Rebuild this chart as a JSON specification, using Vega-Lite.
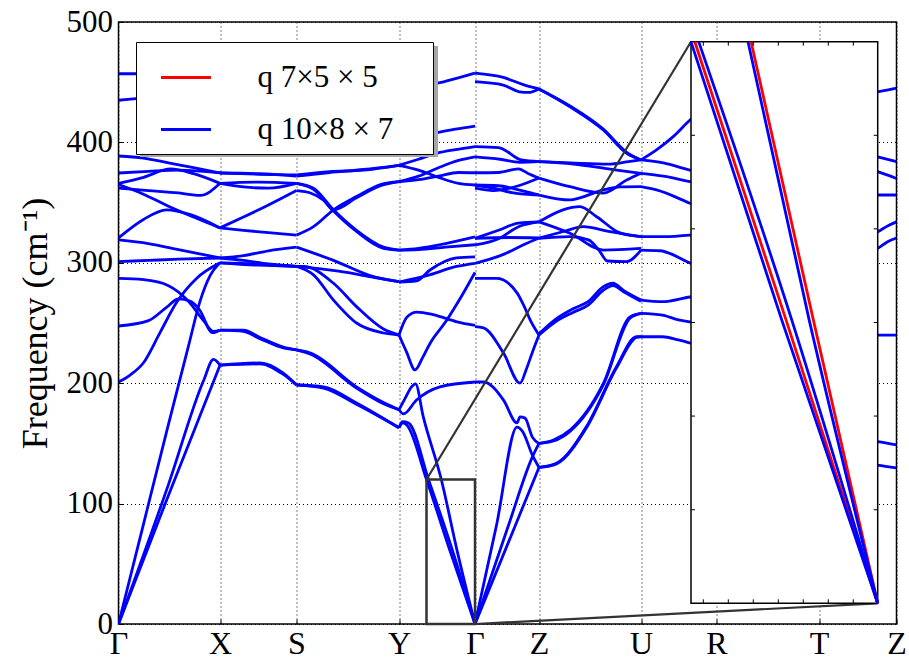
{
"$schema": "https://vega.github.io/schema/vega-lite/v6.json",
"width": 778, "height": 602,
"autosize": {"type": "none"},
"padding": {"left": 118.5, "top": 22, "right": 12.5, "bottom": 35},
"config": {"view": {"stroke": "black", "strokeWidth": 1.5}, "font": "Liberation Serif"},
"datasets": {
"blue": [
{"b":"a1","x":0,"y":457},{"b":"a1","x":30,"y":457},{"b":"a1","x":60,"y":456},{"b":"a1","x":101.5,"y":455},
{"b":"a2","x":0,"y":435},{"b":"a2","x":30,"y":438},{"b":"a2","x":60,"y":445},{"b":"a2","x":101.5,"y":452},
{"b":"a3","x":0,"y":388.7},{"b":"a3","x":25,"y":387},{"b":"a3","x":50,"y":383},{"b":"a3","x":75,"y":379},{"b":"a3","x":101.5,"y":374.6},
{"b":"a4","x":0,"y":374.6},{"b":"a4","x":30,"y":376},{"b":"a4","x":60,"y":377},{"b":"a4","x":101.5,"y":374.6},
{"b":"a5","x":0,"y":366},{"b":"a5","x":25,"y":371},{"b":"a5","x":52,"y":378},{"b":"a5","x":75,"y":374},{"b":"a5","x":101.5,"y":366},
{"b":"a6","x":0,"y":362},{"b":"a6","x":30,"y":360},{"b":"a6","x":60,"y":358},{"b":"a6","x":82,"y":356},{"b":"a6","x":101.5,"y":366},
{"b":"a7","x":0,"y":365},{"b":"a7","x":25,"y":357},{"b":"a7","x":50,"y":347},{"b":"a7","x":75,"y":338},{"b":"a7","x":101.5,"y":329},
{"b":"a8","x":0,"y":320.6},{"b":"a8","x":25,"y":336},{"b":"a8","x":48,"y":344},{"b":"a8","x":72,"y":340},{"b":"a8","x":101.5,"y":329},
{"b":"a9","x":0,"y":319},{"b":"a9","x":30,"y":316},{"b":"a9","x":60,"y":311},{"b":"a9","x":101.5,"y":304},
{"b":"a10","x":0,"y":301},{"b":"a10","x":30,"y":302},{"b":"a10","x":60,"y":303},{"b":"a10","x":101.5,"y":304},
{"b":"a11","x":0,"y":201},{"b":"a11","x":12,"y":207},{"b":"a11","x":25,"y":217},{"b":"a11","x":41.5,"y":242},{"b":"a11","x":58,"y":267},{"b":"a11","x":78,"y":287},{"b":"a11","x":101.5,"y":300},
{"b":"a12","x":0,"y":0},{"b":"a12","x":25,"y":83},{"b":"a12","x":50,"y":166},{"b":"a12","x":70,"y":231},{"b":"a12","x":81.5,"y":268},{"b":"a12","x":92,"y":290},{"b":"a12","x":101.5,"y":300},
{"b":"a13","x":0,"y":247.5},{"b":"a13","x":30,"y":252},{"b":"a13","x":48,"y":263},{"b":"a13","x":60,"y":270},{"b":"a13","x":72,"y":268},{"b":"a13","x":81,"y":261},{"b":"a13","x":94,"y":242},{"b":"a13","x":101.5,"y":244},
{"b":"a14","x":0,"y":287},{"b":"a14","x":25,"y":286},{"b":"a14","x":50,"y":281},{"b":"a14","x":70,"y":268},{"b":"a14","x":85,"y":252},{"b":"a14","x":95,"y":243},{"b":"a14","x":101.5,"y":244},
{"b":"a15","x":0,"y":0},{"b":"a15","x":50,"y":107},{"b":"a15","x":101.5,"y":215},
{"b":"a16","x":0,"y":0},{"b":"a16","x":50,"y":116},{"b":"a16","x":85,"y":202},{"b":"a16","x":95,"y":219.8},{"b":"a16","x":101.5,"y":215},
{"b":"b1","x":101.5,"y":455},{"b":"b1","x":178,"y":455},
{"b":"b2","x":101.5,"y":452},{"b":"b2","x":140,"y":454},{"b":"b2","x":178,"y":455},
{"b":"b3","x":101.5,"y":374.6},{"b":"b3","x":140,"y":373.5},{"b":"b3","x":178,"y":373},
{"b":"b4","x":101.5,"y":374.6},{"b":"b4","x":140,"y":374},{"b":"b4","x":178,"y":372},
{"b":"b5","x":101.5,"y":366},{"b":"b5","x":140,"y":367},{"b":"b5","x":178,"y":366},
{"b":"b6","x":101.5,"y":366},{"b":"b6","x":125,"y":363},{"b":"b6","x":150,"y":362},{"b":"b6","x":178,"y":366},
{"b":"b7","x":101.5,"y":329},{"b":"b7","x":125,"y":327},{"b":"b7","x":150,"y":325},{"b":"b7","x":178,"y":323},
{"b":"b8","x":101.5,"y":329},{"b":"b8","x":125,"y":338},{"b":"b8","x":150,"y":348},{"b":"b8","x":178,"y":360},
{"b":"b9","x":101.5,"y":304},{"b":"b9","x":125,"y":306},{"b":"b9","x":150,"y":310},{"b":"b9","x":178,"y":313},
{"b":"b10","x":101.5,"y":304},{"b":"b10","x":125,"y":302},{"b":"b10","x":150,"y":299},{"b":"b10","x":178,"y":297},
{"b":"b11","x":101.5,"y":300},{"b":"b11","x":140,"y":299},{"b":"b11","x":178,"y":297},
{"b":"b12","x":101.5,"y":300},{"b":"b12","x":140,"y":298},{"b":"b12","x":178,"y":297},
{"b":"b13","x":101.5,"y":244},{"b":"b13","x":124.8,"y":244},{"b":"b13","x":141.5,"y":238},{"b":"b13","x":164.8,"y":230},{"b":"b13","x":178,"y":227.6},
{"b":"b14","x":101.5,"y":244},{"b":"b14","x":124.8,"y":243},{"b":"b14","x":141.5,"y":237},{"b":"b14","x":164.8,"y":229.3},{"b":"b14","x":178,"y":227.6},
{"b":"b15","x":101.5,"y":215},{"b":"b15","x":141.5,"y":216.8},{"b":"b15","x":164.5,"y":208.5},{"b":"b15","x":178,"y":198.5},
{"b":"b16","x":101.5,"y":215},{"b":"b16","x":141.5,"y":216},{"b":"b16","x":164.5,"y":207.5},{"b":"b16","x":178,"y":198.5},
{"b":"c1","x":178,"y":455},{"b":"c1","x":230,"y":450},{"b":"c1","x":280.5,"y":445},
{"b":"c2","x":178,"y":455},{"b":"c2","x":230,"y":430},{"b":"c2","x":280.5,"y":400},
{"b":"c3","x":178,"y":373},{"b":"c3","x":211,"y":375.7},{"b":"c3","x":245,"y":377},{"b":"c3","x":280.5,"y":381},
{"b":"c4","x":178,"y":372},{"b":"c4","x":211,"y":375},{"b":"c4","x":245,"y":377.5},{"b":"c4","x":280.5,"y":381},
{"b":"c5","x":178,"y":366},{"b":"c5","x":195,"y":362},{"b":"c5","x":215,"y":344},{"b":"c5","x":238,"y":327},{"b":"c5","x":265,"y":313},{"b":"c5","x":280.5,"y":310.6},
{"b":"c6","x":178,"y":366},{"b":"c6","x":195,"y":361},{"b":"c6","x":215,"y":343},{"b":"c6","x":238,"y":326},{"b":"c6","x":265,"y":312},{"b":"c6","x":280.5,"y":310.6},
{"b":"c7","x":178,"y":323},{"b":"c7","x":195,"y":330},{"b":"c7","x":215,"y":344},{"b":"c7","x":238,"y":355},{"b":"c7","x":262,"y":365},{"b":"c7","x":280.5,"y":367.4},
{"b":"c8","x":178,"y":360},{"b":"c8","x":192,"y":358},{"b":"c8","x":205,"y":352},{"b":"c8","x":215,"y":344},{"b":"c8","x":238,"y":354},{"b":"c8","x":262,"y":364},{"b":"c8","x":280.5,"y":367.4},
{"b":"c9","x":178,"y":313},{"b":"c9","x":215,"y":302},{"b":"c9","x":255,"y":288.5},{"b":"c9","x":280.5,"y":284.3},
{"b":"c10","x":178,"y":297},{"b":"c10","x":220,"y":293},{"b":"c10","x":255,"y":288},{"b":"c10","x":280.5,"y":284.3},
{"b":"c11","x":178,"y":297},{"b":"c11","x":185,"y":297},{"b":"c11","x":215,"y":283},{"b":"c11","x":238,"y":263.6},{"b":"c11","x":265,"y":245},{"b":"c11","x":280.5,"y":240},
{"b":"c12","x":178,"y":297},{"b":"c12","x":195,"y":290},{"b":"c12","x":215,"y":269},{"b":"c12","x":238,"y":250},{"b":"c12","x":265,"y":241.7},{"b":"c12","x":280.5,"y":240},
{"b":"c13","x":178,"y":227.6},{"b":"c13","x":192,"y":225},{"b":"c13","x":238,"y":197},{"b":"c13","x":265,"y":184},{"b":"c13","x":280.5,"y":178},
{"b":"c14","x":178,"y":227.6},{"b":"c14","x":192,"y":224},{"b":"c14","x":238,"y":196},{"b":"c14","x":265,"y":183},{"b":"c14","x":280.5,"y":178},
{"b":"c15","x":178,"y":198.5},{"b":"c15","x":205,"y":197},{"b":"c15","x":238,"y":183.6},{"b":"c15","x":280.5,"y":163},
{"b":"c16","x":178,"y":198.5},{"b":"c16","x":205,"y":196},{"b":"c16","x":238,"y":182.5},{"b":"c16","x":280.5,"y":163},
{"b":"d1","x":280.5,"y":445},{"b":"d1","x":300,"y":446},{"b":"d1","x":318.5,"y":449},{"b":"d1","x":337,"y":453},{"b":"d1","x":356.5,"y":457.6},
{"b":"d2","x":280.5,"y":400},{"b":"d2","x":300,"y":403},{"b":"d2","x":318.5,"y":408},{"b":"d2","x":337,"y":411},{"b":"d2","x":356.5,"y":413.6},
{"b":"d3","x":280.5,"y":381},{"b":"d3","x":300,"y":386},{"b":"d3","x":318.5,"y":391},{"b":"d3","x":337,"y":394},{"b":"d3","x":356.5,"y":396.5},
{"b":"d4","x":280.5,"y":381},{"b":"d4","x":300,"y":377},{"b":"d4","x":320,"y":371},{"b":"d4","x":340,"y":366},{"b":"d4","x":356.5,"y":364.6},
{"b":"d7","x":280.5,"y":367.4},{"b":"d7","x":300,"y":372},{"b":"d7","x":320,"y":379},{"b":"d7","x":340,"y":385},{"b":"d7","x":356.5,"y":388},
{"b":"d8","x":280.5,"y":367.4},{"b":"d8","x":300,"y":369},{"b":"d8","x":320,"y":372},{"b":"d8","x":340,"y":375},{"b":"d8","x":356.5,"y":374.8},
{"b":"d5","x":280.5,"y":310.6},{"b":"d5","x":300,"y":312},{"b":"d5","x":327,"y":316},{"b":"d5","x":356.5,"y":321.5},
{"b":"d6","x":280.5,"y":310.6},{"b":"d6","x":300,"y":311},{"b":"d6","x":327,"y":313},{"b":"d6","x":356.5,"y":315},
{"b":"d9","x":280.5,"y":284},{"b":"d9","x":298,"y":285},{"b":"d9","x":311.5,"y":294},{"b":"d9","x":338,"y":304},{"b":"d9","x":356.5,"y":305},
{"b":"d10","x":280.5,"y":284},{"b":"d10","x":311,"y":290},{"b":"d10","x":338,"y":297},{"b":"d10","x":356.5,"y":299.6},
{"b":"d11","x":280.5,"y":240},{"b":"d11","x":288,"y":226},{"b":"d11","x":296.5,"y":211},{"b":"d11","x":304,"y":221},{"b":"d11","x":311.5,"y":233},{"b":"d11","x":328,"y":252},{"b":"d11","x":340,"y":268},{"b":"d11","x":356.5,"y":292},
{"b":"d12","x":280.5,"y":240},{"b":"d12","x":288.5,"y":255},{"b":"d12","x":298.5,"y":259},{"b":"d12","x":314.5,"y":257},{"b":"d12","x":338.5,"y":251},{"b":"d12","x":356.5,"y":248},
{"b":"d13","x":280.5,"y":178},{"b":"d13","x":285,"y":174.5},{"b":"d13","x":298,"y":186},{"b":"d13","x":321.5,"y":197},{"b":"d13","x":356.5,"y":201},
{"b":"d14","x":280.5,"y":178},{"b":"d14","x":287,"y":188},{"b":"d14","x":293,"y":197},{"b":"d14","x":297,"y":199.5},{"b":"d14","x":304.8,"y":172},{"b":"d14","x":322.8,"y":120},{"b":"d14","x":338.7,"y":60.5},{"b":"d14","x":356.5,"y":0},
{"b":"d15","x":280.5,"y":163},{"b":"d15","x":284.5,"y":167},{"b":"d15","x":288.5,"y":165},{"b":"d15","x":308,"y":120},{"b":"d15","x":331.6,"y":60.5},{"b":"d15","x":356.5,"y":0},
{"b":"d16","x":280.5,"y":163},{"b":"d16","x":284,"y":168},{"b":"d16","x":290,"y":167},{"b":"d16","x":310,"y":120},{"b":"d16","x":334.2,"y":60.5},{"b":"d16","x":356.5,"y":0},
{"b":"e1","x":356.5,"y":457.6},{"b":"e1","x":384.8,"y":454},{"b":"e1","x":404.8,"y":448},{"b":"e1","x":420.5,"y":444.4},
{"b":"e2","x":356.5,"y":450.4},{"b":"e2","x":384.8,"y":447.6},{"b":"e2","x":401,"y":442},{"b":"e2","x":410,"y":441.5},{"b":"e2","x":420.5,"y":444.4},
{"b":"e3","x":356.5,"y":396.5},{"b":"e3","x":380,"y":395.7},{"b":"e3","x":403,"y":385.4},{"b":"e3","x":420.5,"y":384},
{"b":"e4","x":356.5,"y":388},{"b":"e4","x":381.5,"y":386},{"b":"e4","x":401.5,"y":383.5},{"b":"e4","x":420.5,"y":384},
{"b":"e5","x":356.5,"y":374.8},{"b":"e5","x":380,"y":375},{"b":"e5","x":400,"y":378},{"b":"e5","x":410,"y":374},{"b":"e5","x":420.5,"y":370.4},
{"b":"e6","x":356.5,"y":364.6},{"b":"e6","x":380,"y":364},{"b":"e6","x":398,"y":361},{"b":"e6","x":420.5,"y":356.3},
{"b":"e7","x":356.5,"y":362},{"b":"e7","x":375,"y":360},{"b":"e7","x":400,"y":364},{"b":"e7","x":420.5,"y":370.4},
{"b":"e8","x":356.5,"y":364.6},{"b":"e8","x":375,"y":362},{"b":"e8","x":395,"y":358},{"b":"e8","x":420.5,"y":356.3},
{"b":"e9","x":356.5,"y":320.3},{"b":"e9","x":380,"y":327},{"b":"e9","x":400,"y":333},{"b":"e9","x":420.5,"y":334},
{"b":"e10","x":356.5,"y":314.8},{"b":"e10","x":380,"y":320},{"b":"e10","x":400,"y":330},{"b":"e10","x":420.5,"y":334},
{"b":"e11","x":356.5,"y":320.3},{"b":"e11","x":390,"y":321},{"b":"e11","x":420.5,"y":320.6},
{"b":"e12","x":356.5,"y":299.6},{"b":"e12","x":385,"y":307},{"b":"e12","x":405,"y":315},{"b":"e12","x":420.5,"y":320.6},
{"b":"e13","x":356.5,"y":287},{"b":"e13","x":378.5,"y":287},{"b":"e13","x":398.5,"y":275},{"b":"e13","x":405,"y":265},{"b":"e13","x":412,"y":252},{"b":"e13","x":420.5,"y":240},
{"b":"e14","x":356.5,"y":247},{"b":"e14","x":365,"y":246},{"b":"e14","x":385,"y":225},{"b":"e14","x":401.5,"y":200},{"b":"e14","x":408,"y":212},{"b":"e14","x":414,"y":226},{"b":"e14","x":420.5,"y":240},
{"b":"e15","x":356.5,"y":201},{"b":"e15","x":365,"y":201},{"b":"e15","x":385,"y":186},{"b":"e15","x":398.5,"y":167},{"b":"e15","x":401.5,"y":172},{"b":"e15","x":406.5,"y":171},{"b":"e15","x":414,"y":155},{"b":"e15","x":420.5,"y":150},
{"b":"e16","x":356.5,"y":0},{"b":"e16","x":378,"y":82},{"b":"e16","x":398.5,"y":163.6},{"b":"e16","x":404,"y":160},{"b":"e16","x":414,"y":140},{"b":"e16","x":420.5,"y":130},
{"b":"e17","x":356.5,"y":0},{"b":"e17","x":390,"y":82},{"b":"e17","x":414,"y":139},{"b":"e17","x":420.5,"y":150},
{"b":"e18","x":356.5,"y":0},{"b":"e18","x":390,"y":68},{"b":"e18","x":420.5,"y":130},
{"b":"f1","x":420.5,"y":444.4},{"b":"f1","x":451.5,"y":429.6},{"b":"f1","x":484.8,"y":410.3},{"b":"f1","x":508.2,"y":391},{"b":"f1","x":522.5,"y":385.4},
{"b":"f2","x":420.5,"y":444.4},{"b":"f2","x":451.5,"y":430.3},{"b":"f2","x":484.8,"y":411},{"b":"f2","x":508.2,"y":391.7},{"b":"f2","x":522.5,"y":385.4},
{"b":"f3","x":420.5,"y":384},{"b":"f3","x":452,"y":383},{"b":"f3","x":490,"y":382},{"b":"f3","x":510,"y":384},{"b":"f3","x":522.5,"y":385.4},
{"b":"f4","x":420.5,"y":384},{"b":"f4","x":455,"y":382},{"b":"f4","x":490,"y":378},{"b":"f4","x":522.5,"y":374.3},
{"b":"f5","x":420.5,"y":370.4},{"b":"f5","x":451.5,"y":363.2},{"b":"f5","x":485,"y":357.9},{"b":"f5","x":508.2,"y":368.7},{"b":"f5","x":522.5,"y":374.3},
{"b":"f6","x":420.5,"y":356.3},{"b":"f6","x":451.5,"y":352.2},{"b":"f6","x":461.5,"y":354},{"b":"f6","x":485,"y":360.5},{"b":"f6","x":501.5,"y":363},{"b":"f6","x":522.5,"y":363.2},
{"b":"f7","x":420.5,"y":334},{"b":"f7","x":444.5,"y":344},{"b":"f7","x":461.5,"y":346.6},{"b":"f7","x":478.5,"y":338},{"b":"f7","x":501.5,"y":324.8},{"b":"f7","x":522.5,"y":321.7},
{"b":"f8","x":420.5,"y":334},{"b":"f8","x":451.5,"y":324.5},{"b":"f8","x":485,"y":310.6},{"b":"f8","x":522.5,"y":312},
{"b":"f9","x":420.5,"y":320.3},{"b":"f9","x":451.5,"y":321.7},{"b":"f9","x":470,"y":319},{"b":"f9","x":480,"y":311},{"b":"f9","x":489,"y":301.5},{"b":"f9","x":508,"y":301},{"b":"f9","x":522.5,"y":310.6},
{"b":"f10","x":420.5,"y":320.6},{"b":"f10","x":445,"y":326},{"b":"f10","x":465,"y":330},{"b":"f10","x":490,"y":326},{"b":"f10","x":522.5,"y":321.7},
{"b":"f11","x":420.5,"y":241},{"b":"f11","x":437,"y":253},{"b":"f11","x":455,"y":262},{"b":"f11","x":470,"y":268},{"b":"f11","x":484.5,"y":280},{"b":"f11","x":494.5,"y":283},{"b":"f11","x":505,"y":277},{"b":"f11","x":522.5,"y":269},
{"b":"f12","x":420.5,"y":240},{"b":"f12","x":437,"y":251},{"b":"f12","x":455,"y":259},{"b":"f12","x":470,"y":265},{"b":"f12","x":484.5,"y":277},{"b":"f12","x":494.5,"y":281},{"b":"f12","x":505,"y":276},{"b":"f12","x":522.5,"y":268},
{"b":"f13","x":420.5,"y":150},{"b":"f13","x":435,"y":152.8},{"b":"f13","x":451.5,"y":161},{"b":"f13","x":485,"y":200},{"b":"f13","x":511.5,"y":255},{"b":"f13","x":522.5,"y":258},
{"b":"f14","x":420.5,"y":150},{"b":"f14","x":435,"y":152},{"b":"f14","x":451.5,"y":160},{"b":"f14","x":485,"y":199},{"b":"f14","x":511.5,"y":254},{"b":"f14","x":522.5,"y":258},
{"b":"f15","x":420.5,"y":130},{"b":"f15","x":438,"y":133.5},{"b":"f15","x":468,"y":164},{"b":"f15","x":498,"y":213.7},{"b":"f15","x":518,"y":238.6},{"b":"f15","x":522.5,"y":238.6},
{"b":"f16","x":420.5,"y":130},{"b":"f16","x":438,"y":133},{"b":"f16","x":468,"y":163},{"b":"f16","x":498,"y":212.7},{"b":"f16","x":518,"y":238},{"b":"f16","x":522.5,"y":238.6},
{"b":"g1","x":522.5,"y":385.4},{"b":"g1","x":538,"y":393.7},{"b":"g1","x":555,"y":405},{"b":"g1","x":571.5,"y":418.6},{"b":"g1","x":598,"y":435},
{"b":"g2","x":522.5,"y":385.4},{"b":"g2","x":544.8,"y":383},{"b":"g2","x":571.5,"y":377},{"b":"g2","x":598,"y":372},
{"b":"g3","x":522.5,"y":374.3},{"b":"g3","x":545,"y":372},{"b":"g3","x":571.5,"y":367.4},{"b":"g3","x":598,"y":363},
{"b":"g4","x":522.5,"y":363.2},{"b":"g4","x":538,"y":360.5},{"b":"g4","x":571.5,"y":349.4},{"b":"g4","x":598,"y":340},
{"b":"g5","x":522.5,"y":321.7},{"b":"g5","x":544,"y":321.7},{"b":"g5","x":571.5,"y":323},{"b":"g5","x":598,"y":324},
{"b":"g6","x":522.5,"y":310.6},{"b":"g6","x":541.5,"y":310},{"b":"g6","x":571.5,"y":299.8},{"b":"g6","x":598,"y":290},
{"b":"g7","x":522.5,"y":269},{"b":"g7","x":544,"y":267.7},{"b":"g7","x":571.5,"y":271.6},{"b":"g7","x":598,"y":274},
{"b":"g8","x":522.5,"y":258},{"b":"g8","x":544,"y":256.6},{"b":"g8","x":560,"y":252.5},{"b":"g8","x":571.5,"y":251},{"b":"g8","x":598,"y":246},
{"b":"g9","x":522.5,"y":238.6},{"b":"g9","x":544,"y":238.6},{"b":"g9","x":560,"y":235.9},{"b":"g9","x":571.5,"y":233.4},{"b":"g9","x":598,"y":227},
{"b":"h1","x":740,"y":441},{"b":"h1","x":759.2,"y":442},{"b":"h1","x":778,"y":445},
{"b":"h2","x":740,"y":392},{"b":"h2","x":759.2,"y":388},{"b":"h2","x":778,"y":384},
{"b":"h3","x":740,"y":380},{"b":"h3","x":759.2,"y":375.7},{"b":"h3","x":778,"y":370},
{"b":"h4","x":740,"y":356},{"b":"h4","x":759.2,"y":356.3},{"b":"h4","x":778,"y":356.3},
{"b":"h5","x":740,"y":318},{"b":"h5","x":759.2,"y":325.8},{"b":"h5","x":770,"y":331},{"b":"h5","x":778,"y":334},
{"b":"h6","x":740,"y":305},{"b":"h6","x":759.2,"y":312},{"b":"h6","x":770,"y":318},{"b":"h6","x":778,"y":320.6},
{"b":"h7","x":740,"y":240},{"b":"h7","x":759.2,"y":240},{"b":"h7","x":778,"y":240},
{"b":"h8","x":740,"y":153},{"b":"h8","x":759.2,"y":151.4},{"b":"h8","x":778,"y":148.7},
{"b":"h9","x":740,"y":134},{"b":"h9","x":759.2,"y":132},{"b":"h9","x":778,"y":129.6}
],
"red": [
{"b":"r1","x":101.5,"y":244},{"b":"r1","x":124.8,"y":243.5},{"b":"r1","x":141.5,"y":236.5},{"b":"r1","x":164.8,"y":228.5},{"b":"r1","x":178,"y":226},{"b":"r1","x":192,"y":222.5},{"b":"r1","x":238,"y":195},{"b":"r1","x":265,"y":182},{"b":"r1","x":280.5,"y":176.5},
{"b":"r2","x":178,"y":298.5},{"b":"r2","x":185,"y":298.5},{"b":"r2","x":215,"y":285},{"b":"r2","x":238,"y":265.5},{"b":"r2","x":265,"y":246.5},{"b":"r2","x":280.5,"y":241.5},
{"b":"r3","x":318.5,"y":409.5},{"b":"r3","x":337,"y":412.5},{"b":"r3","x":356.5,"y":415},
{"b":"r4","x":101.5,"y":214.5},{"b":"r4","x":141.5,"y":215.5},{"b":"r4","x":164.5,"y":206.8},{"b":"r4","x":178,"y":197},{"b":"r4","x":205,"y":195.5},{"b":"r4","x":238,"y":182},{"b":"r4","x":280.5,"y":161.8},
{"b":"r5","x":297.8,"y":199.5},{"b":"r5","x":305.6,"y":172},{"b":"r5","x":323.6,"y":120},{"b":"r5","x":339.8,"y":60.5},{"b":"r5","x":356.5,"y":0},
{"b":"r6","x":309,"y":120},{"b":"r6","x":332.7,"y":60.5},{"b":"r6","x":356.5,"y":0}
],
"iblue": [
{"b":"i1","x":572.5,"y":483.6},{"b":"i1","x":663.3,"y":252.4},{"b":"i1","x":759.2,"y":17.2},
{"b":"i2","x":580.2,"y":483.6},{"b":"i2","x":673.3,"y":252.4},{"b":"i2","x":759.2,"y":17.2},
{"b":"i3","x":629.5,"y":483.6},{"b":"i3","x":690.7,"y":252.4},{"b":"i3","x":759.2,"y":17.2}
],
"ired": [
{"b":"j1","x":576.3,"y":483.6},{"b":"j1","x":667.6,"y":252.4},{"b":"j1","x":759.2,"y":17.2},
{"b":"j3","x":632.6,"y":483.6},{"b":"j3","x":694.9,"y":252.4},{"b":"j3","x":759.2,"y":17.2}
],
"iticks": [
{"x":572.5,"x2":576.5,"y":94.9,"y2":94.9},{"x":572.5,"x2":576.5,"y":172.7,"y2":172.7},{"x":572.5,"x2":576.5,"y":250.4,"y2":250.4},{"x":572.5,"x2":576.5,"y":328.2,"y2":328.2},{"x":572.5,"x2":576.5,"y":405.9,"y2":405.9},
{"x":755.2,"x2":759.2,"y":94.9,"y2":94.9},{"x":755.2,"x2":759.2,"y":172.7,"y2":172.7},{"x":755.2,"x2":759.2,"y":250.4,"y2":250.4},{"x":755.2,"x2":759.2,"y":328.2,"y2":328.2},{"x":755.2,"x2":759.2,"y":405.9,"y2":405.9},
{"x":584.8,"x2":584.8,"y":483.6,"y2":480.3},{"x":609.8,"x2":609.8,"y":483.6,"y2":480.3},{"x":634.8,"x2":634.8,"y":483.6,"y2":480.3},{"x":659.8,"x2":659.8,"y":483.6,"y2":480.3},{"x":684.8,"x2":684.8,"y":483.6,"y2":480.3},{"x":709.8,"x2":709.8,"y":483.6,"y2":480.3},{"x":734.8,"x2":734.8,"y":483.6,"y2":480.3},
{"x":584.8,"x2":584.8,"y":17.2,"y2":20.5},{"x":609.8,"x2":609.8,"y":17.2,"y2":20.5},{"x":634.8,"x2":634.8,"y":17.2,"y2":20.5},{"x":659.8,"x2":659.8,"y":17.2,"y2":20.5},{"x":684.8,"x2":684.8,"y":17.2,"y2":20.5},{"x":709.8,"x2":709.8,"y":17.2,"y2":20.5},{"x":734.8,"x2":734.8,"y":17.2,"y2":20.5}
],
"conn": [{"x":308,"y":120,"x2":572.5,"y2":483.6},{"x":356.5,"y":0,"x2":759.2,"y2":17.2}],
"zoombox": [{"x":308,"x2":356.5,"y":0,"y2":120}],
"inset": [{"x":572.5,"x2":759.2,"y":17.2,"y2":483.6}],
"shadow": [{"x":21.5,"x2":319.5,"y":387.9,"y2":480.1}]
},
"layer": [
{"data": {"name": "red"},
 "mark": {"type": "line", "strokeWidth": 2.8, "interpolate": "monotone", "clip": true},
 "encoding": {
  "x": {"field": "x", "type": "quantitative", "scale": {"domain": [0, 778], "nice": false, "zero": false},
   "axis": {"values": [0, 101.5, 178, 280.5, 356.5, 420.5, 522.5, 598, 700.5, 778], "title": null, "grid": true, "gridColor": "black", "gridDash": [1, 3], "gridOpacity": 1, "gridWidth": 1, "domain": false, "ticks": true, "tickSize": -5, "tickColor": "black", "labelFontSize": 32, "labelFont": "Liberation Serif", "labelColor": "black", "labelPadding": 9, "labelOverlap": false, "labelFlush": false, "labelAngle": 0,
   "labelExpr": "datum.value < 50 ? 'Γ' : datum.value < 140 ? 'X' : datum.value < 230 ? 'S' : datum.value < 320 ? 'Y' : datum.value < 390 ? 'Γ' : datum.value < 470 ? 'Z' : datum.value < 560 ? 'U' : datum.value < 650 ? 'R' : datum.value < 740 ? 'T' : 'Z'"}},
  "y": {"field": "y", "type": "quantitative", "scale": {"domain": [0, 500], "nice": false},
   "axis": {"values": [0, 100, 200, 300, 400, 500], "format": "d", "title": "Frequency (cm⁻¹)", "titleFontSize": 36, "titleFont": "Liberation Serif", "titleFontWeight": "normal", "titleColor": "black", "titlePadding": 12, "grid": true, "gridColor": "black", "gridDash": [1, 3], "gridOpacity": 1, "gridWidth": 1, "domain": false, "ticks": true, "tickSize": -5, "tickColor": "black", "labelFontSize": 31, "labelFont": "Liberation Serif", "labelColor": "black", "labelPadding": 11, "labelOverlap": false, "labelFlush": false}},
  "color": {"field": "s", "type": "nominal",
   "scale": {"domain": ["R", "B"], "range": ["#ff0000", "#0000ff"]},
   "legend": {"orient": "none", "legendX": 17.5, "legendY": 20, "title": null, "symbolType": "stroke", "symbolSize": 2500, "symbolStrokeWidth": 3, "symbolOffset": 14.5, "labelOffset": 45, "labelFontSize": 31, "labelFont": "Liberation Serif", "labelColor": "black", "fillColor": "white", "strokeColor": "black", "padding": 9, "rowPadding": 10, "labelLimit": 400,
    "labelExpr": "datum.value == 'R' ? 'q 7×5 × 5' : 'q 10×8 × 7\u00a0\u2800'"}},
  "detail": {"field": "b", "type": "nominal"}
 }
},
{"data": {"name": "blue"},
 "mark": {"type": "line", "strokeWidth": 2.8, "interpolate": "monotone", "clip": true},
 "encoding": {
  "x": {"field": "x", "type": "quantitative"},
  "y": {"field": "y", "type": "quantitative"},
  "color": {"datum": "B", "type": "nominal"},
  "detail": {"field": "b", "type": "nominal"}
 }
},
{"data": {"name": "shadow"}, "mark": {"type": "rect", "color": "#a6a6a6"},
 "encoding": {"x": {"field": "x", "type": "quantitative"}, "x2": {"field": "x2"}, "y": {"field": "y", "type": "quantitative"}, "y2": {"field": "y2"}}},
{"data": {"name": "conn"}, "mark": {"type": "rule", "color": "#333333", "strokeWidth": 2.2},
 "encoding": {"x": {"field": "x", "type": "quantitative"}, "x2": {"field": "x2"}, "y": {"field": "y", "type": "quantitative"}, "y2": {"field": "y2"}}},
{"data": {"name": "inset"}, "mark": {"type": "rect", "fill": "white", "stroke": "black", "strokeWidth": 1.5},
 "encoding": {"x": {"field": "x", "type": "quantitative"}, "x2": {"field": "x2"}, "y": {"field": "y", "type": "quantitative"}, "y2": {"field": "y2"}}},
{"data": {"name": "ired"}, "mark": {"type": "line", "strokeWidth": 2.8, "color": "#ff0000", "interpolate": "monotone"},
 "encoding": {"x": {"field": "x", "type": "quantitative"}, "y": {"field": "y", "type": "quantitative"}, "detail": {"field": "b", "type": "nominal"}}},
{"data": {"name": "iblue"}, "mark": {"type": "line", "strokeWidth": 2.8, "color": "#0000ff", "interpolate": "monotone"},
 "encoding": {"x": {"field": "x", "type": "quantitative"}, "y": {"field": "y", "type": "quantitative"}, "detail": {"field": "b", "type": "nominal"}}},
{"data": {"name": "iticks"}, "mark": {"type": "rule", "color": "black", "strokeWidth": 1},
 "encoding": {"x": {"field": "x", "type": "quantitative"}, "x2": {"field": "x2"}, "y": {"field": "y", "type": "quantitative"}, "y2": {"field": "y2"}}},
{"data": {"name": "zoombox"}, "mark": {"type": "rect", "filled": false, "stroke": "#333333", "strokeWidth": 2.5},
 "encoding": {"x": {"field": "x", "type": "quantitative"}, "x2": {"field": "x2"}, "y": {"field": "y", "type": "quantitative"}, "y2": {"field": "y2"}}}
]
}
